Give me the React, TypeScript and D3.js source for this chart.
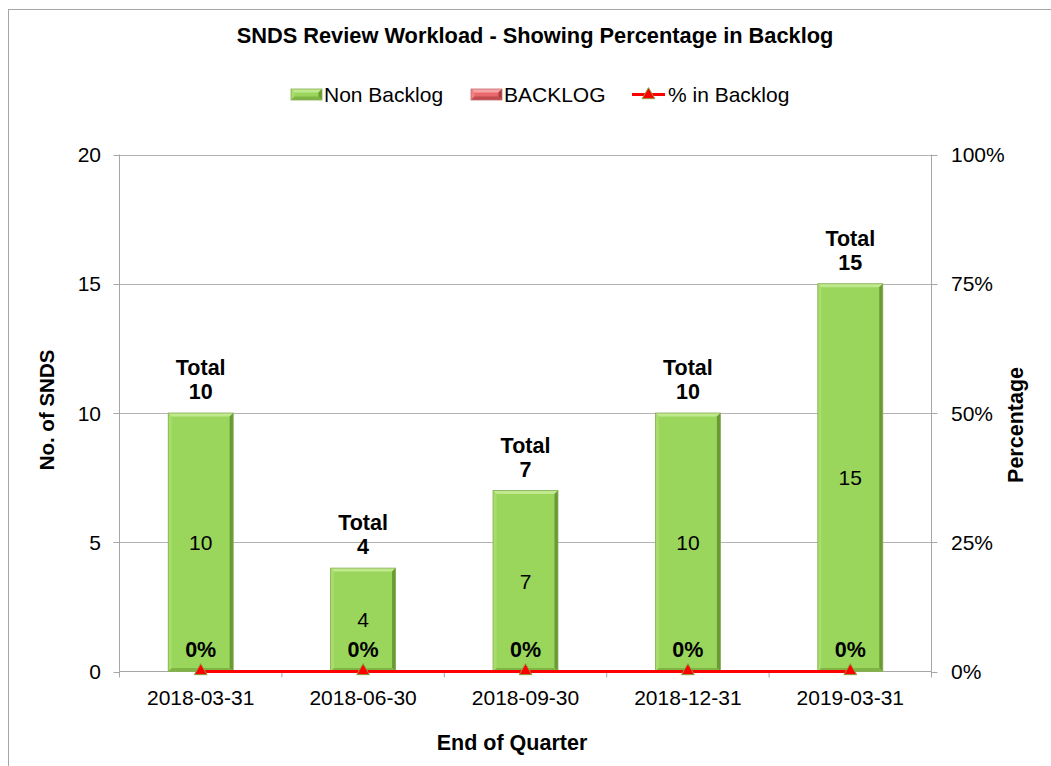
import { useMemo } from "react";
import * as d3 from "d3";

const quarters = ["2018-03-31", "2018-06-30", "2018-09-30", "2018-12-31", "2019-03-31"];
const nonBacklog = [10, 4, 7, 10, 15];
const backlog = [0, 0, 0, 0, 0];
const pctInBacklog = [0, 0, 0, 0, 0];
const countTicks = [0, 5, 10, 15, 20];
const pctTicks = [0, 0.25, 0.5, 0.75, 1];

const W = 1051;
const H = 766;
const FONT = "'Liberation Sans', Arial, sans-serif";
const plot = { left: 119.5, right: 931.5, top: 154.5, bottom: 671.5 };

function BevelBar({ x, y, w, h, base, light, lighter, dark, darker, edge }: any) {
  if (h <= 0) return null;
  const b = Math.min(3.5, h / 2);
  const pts = (a: number[][]) => a.map((p) => p.join(",")).join(" ");
  return (
    <g>
      <rect x={x} y={y} width={w} height={h} fill={base} />
      <polygon points={pts([[x, y], [x + w, y], [x + w - b, y + b], [x + b, y + b]])} fill={lighter} />
      <polygon points={pts([[x, y], [x + b, y + b], [x + b, y + h - b], [x, y + h]])} fill={light} />
      <polygon points={pts([[x + w, y], [x + w, y + h], [x + w - b, y + h - b], [x + w - b, y + b]])} fill={darker} />
      <polygon points={pts([[x, y + h], [x + w, y + h], [x + w - b, y + h - b], [x + b, y + h - b]])} fill={dark} />
      <rect x={x} y={y} width={w} height={h} fill="none" stroke={edge} strokeWidth={0.8} />
    </g>
  );
}

const green = { base: "#9ad65c", light: "#a8dd6c", lighter: "#c0e98d", dark: "#7fb445", darker: "#6a9a35", edge: "#86ad55" };
const red = { base: "#e8686b", light: "#ee8184", lighter: "#f5a3a5", dark: "#c04a4d", darker: "#a83c3f", edge: "#c46a6c" };

export default function App() {
  const x = useMemo(
    () => d3.scaleBand<string>().domain(quarters).range([plot.left, plot.right]).paddingInner(0.6).paddingOuter(0.3),
    []
  );
  const step = (plot.right - plot.left) / quarters.length;
  const y = d3.scaleLinear().domain([0, 20]).range([plot.bottom, plot.top]);
  const y2 = d3.scaleLinear().domain([0, 1]).range([plot.bottom, plot.top]);
  const cx = (q: string) => (x(q) as number) + x.bandwidth() / 2;

  const line = d3
    .line<number>()
    .x((_, i) => cx(quarters[i]))
    .y((d) => y2(d));

  const textStyle = { fontFamily: FONT, fontSize: 21, fill: "#000" };
  const boldStyle = { ...textStyle, fontWeight: "bold" as const };
  const marker = d3.symbol(d3.symbolTriangle, 70)() as string;

  return (
    <svg width={W} height={H} style={{ position: "absolute", left: 0, top: 0, background: "#fff" }}>
      <rect x={8.5} y={9.5} width={1100} height={800} fill="#fff" stroke="#a6a6a6" strokeWidth={1} />

      <text x={535} y={43} textAnchor="middle" style={{ ...boldStyle, fontSize: 21.8 }}>
        SNDS Review Workload - Showing Percentage in Backlog
      </text>

      {/* legend */}
      <g>
        <BevelBar x={291} y={89} w={31} h={11} {...green} />
        <text x={324} y={102} style={textStyle}>Non Backlog</text>
        <BevelBar x={471} y={89} w={31} h={11} {...red} />
        <text x={504} y={102} style={textStyle}>BACKLOG</text>
        <line x1={632} x2={665} y1={94.5} y2={94.5} stroke="#ff0000" strokeWidth={3} />
        <path d={marker} transform="translate(648.5,95)" fill="#ff0000" stroke="#8aa040" strokeWidth={1} />
        <text x={668} y={102} style={textStyle}>% in Backlog</text>
      </g>

      {/* gridlines */}
      {countTicks.filter((t) => t > 0).map((t) => (
        <line key={t} x1={plot.left} x2={plot.right} y1={Math.round(y(t)) + 0.5} y2={Math.round(y(t)) + 0.5} stroke="#b3b3b3" strokeWidth={1} />
      ))}

      {/* axes */}
      <line x1={plot.left} x2={plot.left} y1={plot.top} y2={plot.bottom} stroke="#a6a6a6" />
      <line x1={plot.right} x2={plot.right} y1={plot.top} y2={plot.bottom} stroke="#a6a6a6" />
      <line x1={plot.left} x2={plot.right} y1={plot.bottom} y2={plot.bottom} stroke="#a6a6a6" />
      {countTicks.map((t) => (
        <g key={"l" + t}>
          <line x1={plot.left - 6} x2={plot.left} y1={Math.round(y(t)) + 0.5} y2={Math.round(y(t)) + 0.5} stroke="#a6a6a6" />
          <text x={101} y={y(t) + 7.5} textAnchor="end" style={textStyle}>{t}</text>
        </g>
      ))}
      {pctTicks.map((t) => (
        <g key={"r" + t}>
          <line x1={plot.right} x2={plot.right + 6} y1={Math.round(y2(t)) + 0.5} y2={Math.round(y2(t)) + 0.5} stroke="#a6a6a6" />
          <text x={951} y={y2(t) + 7.5} textAnchor="start" style={textStyle}>{d3.format(".0%")(t)}</text>
        </g>
      ))}
      {d3.range(quarters.length + 1).map((i) => (
        <line key={"xt" + i} x1={plot.left + i * step} x2={plot.left + i * step} y1={plot.bottom} y2={plot.bottom + 6} stroke="#a6a6a6" />
      ))}
      {quarters.map((q) => (
        <text key={"xl" + q} x={cx(q)} y={705} textAnchor="middle" style={textStyle}>{q}</text>
      ))}

      {/* axis titles */}
      <text transform="translate(54,410) rotate(-90)" textAnchor="middle" style={{ ...boldStyle, fontSize: 20.5 }}>No. of SNDS</text>
      <text transform="translate(1023,425) rotate(-90)" textAnchor="middle" style={{ ...boldStyle, fontSize: 21.5 }}>Percentage</text>
      <text x={512} y={750} textAnchor="middle" style={{ ...boldStyle, fontSize: 21.5 }}>End of Quarter</text>

      {/* stacked bars */}
      {quarters.map((q, i) => {
        const bx = x(q) as number;
        const bw = x.bandwidth();
        const nb = nonBacklog[i];
        const bl = backlog[i];
        const total = nb + bl;
        const yTop = y(total);
        return (
          <g key={"bar" + q}>
            <BevelBar x={bx} y={y(nb)} w={bw} h={y(0) - y(nb)} {...green} />
            <BevelBar x={bx} y={y(total)} w={bw} h={y(nb) - y(total)} {...red} />
            <text x={cx(q)} y={(y(0) + y(nb)) / 2 + 7.5} textAnchor="middle" style={textStyle}>{nb}</text>
            {bl > 0 && (
              <text x={cx(q)} y={(y(nb) + y(total)) / 2 + 7.5} textAnchor="middle" style={textStyle}>{bl}</text>
            )}
            <text x={cx(q)} y={yTop - 38} textAnchor="middle" style={{ ...boldStyle, fontSize: 21.5 }}>Total</text>
            <text x={cx(q)} y={yTop - 14} textAnchor="middle" style={{ ...boldStyle, fontSize: 21.5 }}>{total}</text>
          </g>
        );
      })}

      {/* % in backlog line */}
      <path d={line(pctInBacklog) as string} fill="none" stroke="#ff0000" strokeWidth={3} />
      {pctInBacklog.map((p, i) => (
        <g key={"pt" + i}>
          <path d={marker} transform={`translate(${cx(quarters[i])},${y2(p) - 0.5})`} fill="#ff0000" stroke="#8aa040" strokeWidth={1} />
          <text x={cx(quarters[i])} y={y2(p) - 15} textAnchor="middle" style={{ ...boldStyle, fontSize: 21.5 }}>{d3.format(".0%")(p)}</text>
        </g>
      ))}
    </svg>
  );
}
